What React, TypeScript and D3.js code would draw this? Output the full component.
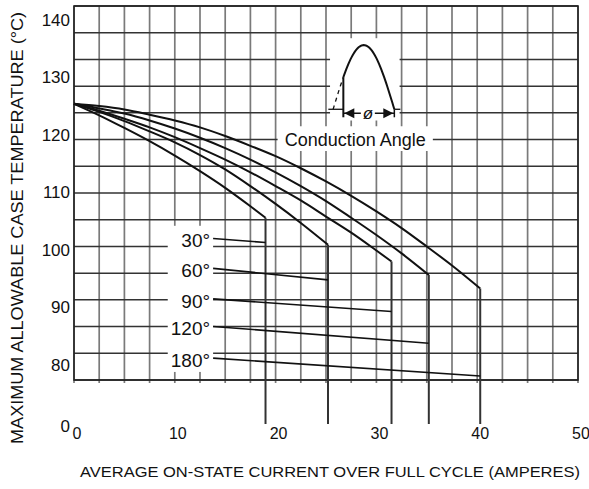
import React, { useEffect } from "react";
import * as d3 from "d3";

const W = 589;
const H = 489;

// ---------- data ----------
const xTicks = [0, 10, 20, 30, 40, 50];
const yTicks = [0, 80, 90, 100, 110, 120, 130, 140];

const angleLabels = ["30°", "60°", "90°", "120°", "180°"];

const current30 = [0, 2.5, 5, 7.5, 10, 12.5, 15, 17.5, 19.0];
const temp30 = [125, 123.0, 120.8, 118.5, 116.0, 113.3, 110.4, 107.2, 105.2];

const current60 = [0, 2.5, 5, 7.5, 10, 12.5, 15, 17.5, 20, 22.5, 25.2];
const temp60 = [125, 123.6, 122.0, 120.2, 118.3, 116.1, 113.6, 110.7, 107.6, 104.3, 100.5];

const current90 = [0, 2.5, 5, 7.5, 10, 12.5, 15, 17.5, 20, 22.5, 25, 27.5, 30, 31.5];
const temp90 = [125, 123.8, 122.4, 120.9, 119.2, 117.3, 115.3, 113.1, 110.7, 108.2, 105.4, 102.6, 99.5, 97.6];

const current120 = [0, 2.5, 5, 7.5, 10, 12.5, 15, 17.5, 20, 22.5, 25, 27.5, 30, 32.5, 35.2];
const temp120 = [125, 124.2, 123.3, 122.1, 120.7, 119.1, 117.3, 115.3, 113.1, 110.7, 108.1, 105.2, 102.2, 99.0, 95.25];

const current180 = [0, 2.5, 5, 7.5, 10, 12.5, 15, 17.5, 20, 22.5, 25, 27.5, 30, 32.5, 35, 37.5, 40.3];
const temp180 = [125, 124.6, 124.0, 123.1, 122.1, 120.9, 119.4, 117.7, 115.9, 113.8, 111.5, 109.0, 106.3, 103.4, 100.2, 96.9, 92.9];

// leader lines from the angle labels to the vertical drop lines
const leaderStartCurrent = 13.8;
const leaderStartTemp = [101.6, 96.4, 91.1, 86.3, 80.8];
const leaderEndTemp = [100.9, 94.4, 88.9, 83.4, 77.7];

const xDomain = [0, 50];
const yFrameMin = 77;
const yFrameMax = 142;
const gridStepX = 2.5;
const gridRows = 14;

const series = [
  { current: current30, temp: temp30 },
  { current: current60, temp: temp60 },
  { current: current90, temp: temp90 },
  { current: current120, temp: temp120 },
  { current: current180, temp: temp180 },
];

const FONT = "'Liberation Sans', Arial, Helvetica, sans-serif";

export default function App() {
  useEffect(() => {
    document.body.style.margin = "0";
  }, []);

  const x = d3.scaleLinear().domain(xDomain).range([74, 578]);
  // broken axis: 0 sits below the frame
  const y = d3.scaleLinear().domain([0, yFrameMin, yFrameMax]).range([424, 380, 6]);

  const line = d3
    .line<[number, number]>()
    .x((d) => x(d[0]))
    .y((d) => y(d[1]))
    .curve(d3.curveMonotoneX);

  const vGrid = d3.range(xDomain[0], xDomain[1] + 0.001, gridStepX);
  const hGrid = d3.range(gridRows + 1).map((i) => yFrameMin + (i * (yFrameMax - yFrameMin)) / gridRows);

  const x0 = x(0), x1 = x(50), yT = y(yFrameMax), yB = y(yFrameMin);

  // inset (conduction-angle symbol)
  const insL = x(26.72), insR = x(31.78);
  const insBase = y(124.05), insPeak = y(135.2);
  const firing = 30;
  const phX = (p: number) => insL + ((p - firing) / (180 - firing)) * (insR - insL);
  const phY = (p: number) => insBase - Math.sin((p * Math.PI) / 180) * (insBase - insPeak);
  const solidPh = d3.range(firing, 180.01, 3);
  const dashPh = d3.range(0, firing + 0.01, 3);
  const sinePath = d3.line<number>().x(phX).y(phY)(solidPh) || "";
  const dashPath = d3.line<number>().x(phX).y(phY)(dashPh) || "";
  const arrowY = insBase + 4;
  const startY = phY(firing);

  const whiteBoxes = [
    { i0: 9.3, i1: 13.8, t0: 103.8, t1: 78.4 },
    { i0: 25.4, i1: 32.3, t0: 136.4, t1: 122.1 },
    { i0: 20.2, i1: 35.6, t0: 121.1, t1: 116.8 },
  ];

  return (
    <svg
      width={W}
      height={H}
      viewBox={`0 0 ${W} ${H}`}
      style={{ display: "block", background: "#fff", position: "absolute", left: 0, top: 0 }}
    >
      <rect x={0} y={0} width={W} height={H} fill="#fff" />
      {/* vertical grid */}
      {vGrid.map((v) => (
        <line key={"v" + v} x1={x(v)} x2={x(v)} y1={yT} y2={yB + 3} stroke="#7a7a7a" strokeWidth={1.7} />
      ))}
      {/* horizontal grid */}
      {hGrid.map((v, i) => (
        <line key={"h" + i} x1={x0} x2={x1} y1={y(v)} y2={y(v)} stroke="#333" strokeWidth={1.5} />
      ))}
      {/* frame */}
      <rect x={x0} y={yT} width={x1 - x0} height={yB - yT} fill="none" stroke="#222" strokeWidth={1.6} />

      {/* white boxes behind annotations */}
      {whiteBoxes.map((b, i) => (
        <rect key={"wb" + i} x={x(b.i0)} y={y(b.t0)} width={x(b.i1) - x(b.i0)} height={y(b.t1) - y(b.t0)} fill="#fff" />
      ))}

      {/* curves */}
      {series.map((s, i) => {
        const pts = s.current.map((c, k) => [c, s.temp[k]] as [number, number]);
        return <path key={"c" + i} d={line(pts) || ""} fill="none" stroke="#111" strokeWidth={2} />;
      })}
      {/* vertical drops */}
      {series.map((s, i) => {
        const n = s.current.length - 1;
        return (
          <line
            key={"d" + i}
            x1={x(s.current[n])}
            x2={x(s.current[n])}
            y1={y(s.temp[n])}
            y2={y(0)}
            stroke="#333"
            strokeWidth={2}
          />
        );
      })}
      {/* leaders */}
      {series.map((s, i) => {
        const n = s.current.length - 1;
        return (
          <line
            key={"l" + i}
            x1={x(leaderStartCurrent)}
            y1={y(leaderStartTemp[i])}
            x2={x(s.current[n])}
            y2={y(leaderEndTemp[i])}
            stroke="#111"
            strokeWidth={1.6}
          />
        );
      })}
      {/* angle labels */}
      {angleLabels.map((lab, i) => (
        <text
          key={"a" + i}
          x={x(leaderStartCurrent) - 3}
          y={y(leaderStartTemp[i]) + 9}
          textAnchor="end"
          fontFamily={FONT}
          fontSize={19}
          fill="#111"
        >
          {lab}
        </text>
      ))}

      {/* inset symbol */}
      <path d={sinePath} fill="none" stroke="#111" strokeWidth={2} />
      <path d={dashPath} fill="none" stroke="#111" strokeWidth={1.3} strokeDasharray="4 4" />
      <line x1={insL} x2={insL} y1={startY} y2={arrowY + 4} stroke="#111" strokeWidth={2} />
      <line x1={insR} x2={insR} y1={insBase} y2={arrowY + 4} stroke="#111" strokeWidth={1.5} />
      <line x1={insL - 15} x2={insL} y1={insBase} y2={insBase} stroke="#111" strokeWidth={1.3} />
      <line x1={insR} x2={insR + 6} y1={insBase} y2={insBase} stroke="#111" strokeWidth={1.3} />
      <line x1={insL} x2={insR} y1={arrowY} y2={arrowY} stroke="#111" strokeWidth={1.5} />
      <path d={`M${insL + 1},${arrowY} l10,-5 l0,10 z`} fill="#111" />
      <path d={`M${insR - 1},${arrowY} l-10,-5 l0,10 z`} fill="#111" />
      <rect x={(insL + insR) / 2 - 8} y={arrowY - 8} width={14} height={14} fill="#fff" />
      <text x={(insL + insR) / 2 - 1} y={arrowY + 6} textAnchor="middle" fontFamily={FONT} fontSize={17} fontStyle="italic" fill="#111">
        ø
      </text>
      <text x={(x(20.2) + x(35.6)) / 2} y={146} textAnchor="middle" fontFamily={FONT} fontSize={18} fill="#111">
        Conduction Angle
      </text>

      {/* y tick labels */}
      {yTicks.map((t) => (
        <text key={"yt" + t} x={70} y={y(t) + 8} textAnchor="end" fontFamily={FONT} fontSize={17} fill="#111">
          {t}
        </text>
      ))}
      {/* x tick labels */}
      {xTicks.map((t) => (
        <text key={"xt" + t} x={x(t) + 3} y={439} textAnchor="middle" fontFamily={FONT} fontSize={16} fill="#111">
          {t}
        </text>
      ))}
      {/* axis titles */}
      <text
        x={330}
        y={477}
        textAnchor="middle"
        fontFamily={FONT}
        fontSize={15}
        textLength={500}
        lengthAdjust="spacingAndGlyphs"
        fill="#111"
      >
        AVERAGE ON-STATE CURRENT OVER FULL CYCLE (AMPERES)
      </text>
      <text
        transform={`translate(23,228) rotate(-90)`}
        x={0}
        y={0}
        textAnchor="middle"
        fontFamily={FONT}
        fontSize={16}
        textLength={432}
        lengthAdjust="spacingAndGlyphs"
        fill="#111"
      >
        MAXIMUM ALLOWABLE CASE TEMPERATURE (°C)
      </text>
    </svg>
  );
}
